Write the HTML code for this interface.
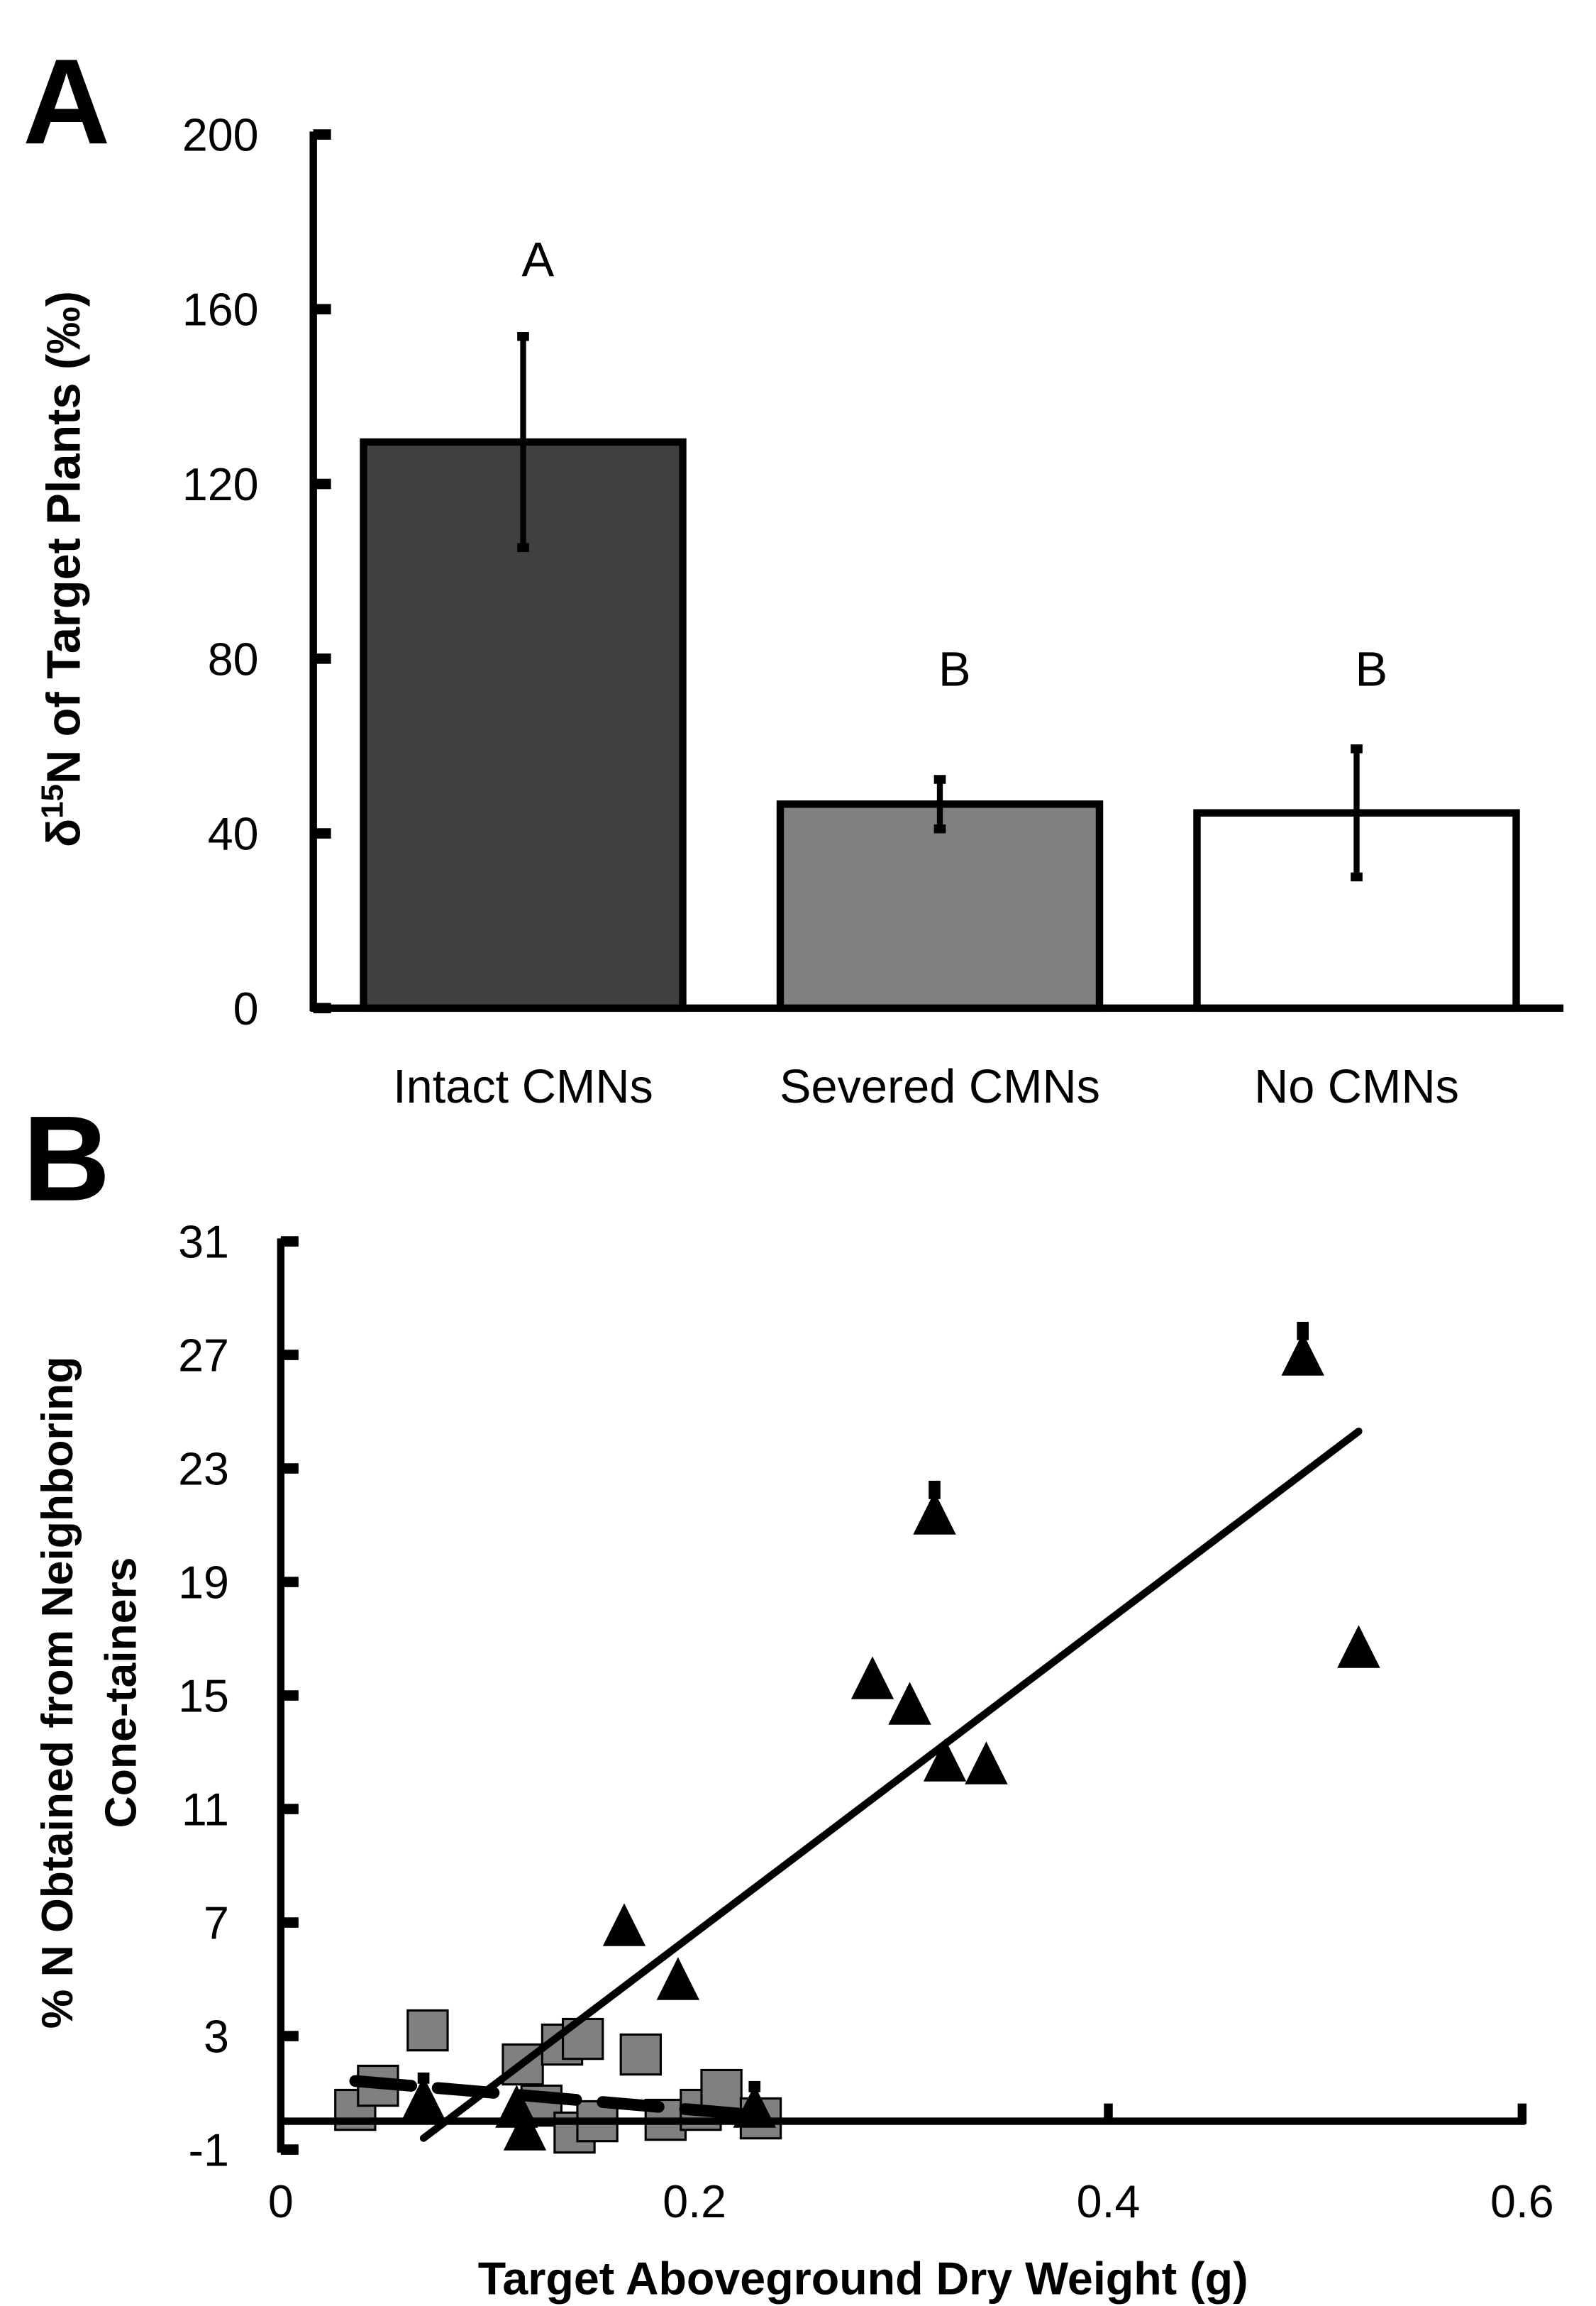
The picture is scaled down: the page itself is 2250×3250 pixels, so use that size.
<!DOCTYPE html>
<html><head><meta charset="utf-8"><style>
html,body{margin:0;padding:0;background:#fff;}
svg{display:block;}
text{font-family:"Liberation Sans",sans-serif;fill:#000;}
</style></head><body>
<svg id="fig" width="2250" height="3250" viewBox="0 0 1080 1560" preserveAspectRatio="none" xmlns="http://www.w3.org/2000/svg">
<rect width="1080" height="1560" fill="#fff"/>
<text x="45" y="97" font-size="82" font-weight="bold" text-anchor="middle">A</text>
<text x="45" y="812" font-size="82" font-weight="bold" text-anchor="middle">B</text>
<text transform="translate(54,385) rotate(-90)" font-size="32" font-weight="bold" text-anchor="middle">δ<tspan baseline-shift="super" font-size="21">15</tspan>N of Target Plants (‰)</text>
<text transform="translate(49,1145) rotate(-90)" font-size="30" font-weight="bold" text-anchor="middle">% N Obtained from Neighboring</text>
<text transform="translate(92,1145) rotate(-90)" font-size="30" font-weight="bold" text-anchor="middle">Cone-tainers</text>
<text x="584" y="1552" font-size="31" font-weight="bold" text-anchor="middle">Target Aboveground Dry Weight (g)</text>
<g id="ga"></g>
<g id="gb"></g>
</svg>
<script>
// Panel A data
const catsA = ["Intact CMNs", "Severed CMNs", "No CMNs"];
const valsA = [129.6, 46.7, 44.7];
const errsA = [24.5, 6, 15];
const lettersA = ["A", "B", "B"];
const letterLevelsA = [167.5, 73.8, 73.8];
const fillsA = ["#404040", "#808080", "#ffffff"];
const ticksA = [0, 40, 80, 120, 160, 200];
// Panel B data
const triX = [0.069, 0.114, 0.118, 0.166, 0.192, 0.286, 0.304, 0.321, 0.341, 0.316, 0.494, 0.521, 0.229];
const triY = [0.8, 0.5, -0.3, 6.9, 5.0, 15.6, 14.7, 12.7, 12.6, 21.4, 27.0, 16.7, 0.5];
const triErr = [0.3, 0, 0, 0, 0, 0, 0, 0, 0, 0.7, 0.7, 0, 0.3];
const sqX = [0.036, 0.047, 0.071, 0.117, 0.126, 0.136, 0.146, 0.142, 0.153, 0.174, 0.186, 0.203, 0.213, 0.232];
const sqY = [0.4, 1.25, 3.2, 2.0, 0.55, 2.7, 2.9, -0.4, 0.0, 2.35, 0.05, 0.4, 1.1, 0.1];
const sqErr = [0.4, 0.4, 0.3, 0.6, 0.5, 0.6, 0.5, 0.5, 0.5, 0.3, 0.5, 0.5, 0.6, 0.5];
const triFit = [55.1, -4.4];
const sqFit = [-6.2, 1.64];
const ticksBY = [-1, 3, 7, 11, 15, 19, 23, 27, 31];
const ticksBX = [0, 0.2, 0.4, 0.6];

const NS = "http://www.w3.org/2000/svg";
function mk(parent, tag, attrs, txt) {
  const e = document.createElementNS(NS, tag);
  for (const k in attrs) e.setAttribute(k, attrs[k]);
  if (txt !== undefined) e.textContent = txt;
  parent.appendChild(e);
  return e;
}
// ---- Panel A
const ga = document.getElementById('ga');
const yA = v => 682 - (v / 200) * 591;
const bandX = i => 246 + i * 282;
const bandW = 216;
let e;
e = mk(ga, 'line', {x1: 212, y1: 89, x2: 212, y2: 684, stroke: '#000', 'stroke-width': 5});


e = mk(ga, 'line', {x1: 210, y1: 682, x2: 1058, y2: 682, stroke: '#000', 'stroke-width': 5});


ticksA.forEach(t => {
  mk(ga, 'line', {x1: 212, y1: yA(t), x2: 224, y2: yA(t), stroke: '#000', 'stroke-width': 7});
  e = mk(ga, 'text', {x: 175, y: yA(t) + 11, 'font-size': 31, 'text-anchor': 'end'}, String(t));
  
  
});
catsA.forEach((c, i) => {
  const x = bandX(i), cx = x + bandW / 2;
  e = mk(ga, 'rect', {x: x, y: yA(valsA[i]), width: bandW, height: 682 - yA(valsA[i]), fill: fillsA[i], stroke: '#000', 'stroke-width': 5});
  
  
  e = mk(ga, 'line', {x1: cx, y1: yA(valsA[i] + errsA[i]), x2: cx, y2: yA(valsA[i] - errsA[i]), stroke: '#000', 'stroke-width': 4});
  
  
  mk(ga, 'rect', {x: cx - 4, y: yA(valsA[i] + errsA[i]) - 2, width: 8, height: 6, fill: '#000'});
  mk(ga, 'rect', {x: cx - 4, y: yA(valsA[i] - errsA[i]) - 4, width: 8, height: 6, fill: '#000'});
  e = mk(ga, 'text', {x: cx + 10, y: yA(letterLevelsA[i]), 'font-size': 33, 'text-anchor': 'middle'}, lettersA[i]);
  
  
  e = mk(ga, 'text', {x: cx, y: 746, 'font-size': 32, 'text-anchor': 'middle'}, c);
  
  
});
// ---- Panel B
const gb = document.getElementById('gb');
const xB = v => 190 + v * 1400;
const yB = v => 1435 - v * 19.2;
e = mk(gb, 'line', {x1: 190, y1: yB(31) - 2, x2: 190, y2: yB(-1) + 2, stroke: '#000', 'stroke-width': 5});


ticksBY.forEach(t => {
  mk(gb, 'line', {x1: 190, y1: yB(t), x2: 202, y2: yB(t), stroke: '#000', 'stroke-width': 7});
  e = mk(gb, 'text', {x: 155, y: yB(t) + 11, 'font-size': 31, 'text-anchor': 'end'}, String(t));
  
  
});
ticksBX.forEach(t => {
  if (t > 0) mk(gb, 'line', {x1: xB(t), y1: yB(0) + 2, x2: xB(t), y2: yB(0) - 12, stroke: '#000', 'stroke-width': 6});
  e = mk(gb, 'text', {x: xB(t), y: 1500, 'font-size': 31, 'text-anchor': 'middle'}, String(t));
  
  
});
sqX.forEach((x, i) => {
  mk(gb, 'line', {x1: xB(x), y1: yB(sqY[i] + sqErr[i]), x2: xB(x), y2: yB(sqY[i] - sqErr[i]), stroke: '#000', 'stroke-width': 6});
  e = mk(gb, 'rect', {x: xB(x) - 13.5, y: yB(sqY[i]) - 13.5, width: 27, height: 27, fill: '#808080', stroke: '#000', 'stroke-width': 1.5});
  
  
});
e = mk(gb, 'line', {x1: 188, y1: yB(0), x2: 1032, y2: yB(0), stroke: '#000', 'stroke-width': 5});


triX.forEach((x, i) => {
  const cx = xB(x), cy = yB(triY[i]);
  if (triErr[i] > 0) mk(gb, 'rect', {x: cx - 4, y: cy - 14 - triErr[i] * 12, width: 8, height: triErr[i] * 12 + 4, fill: '#000'});
  e = mk(gb, 'polygon', {points: `${cx},${cy - 15} ${cx - 14.5},${cy + 14} ${cx + 14.5},${cy + 14}`, fill: '#000'});
  
  
});
const tx0 = Math.min(...triX), tx1 = Math.max(...triX);
e = mk(gb, 'line', {x1: xB(tx0), y1: yB(triFit[0] * tx0 + triFit[1]), x2: xB(tx1), y2: yB(triFit[0] * tx1 + triFit[1]), stroke: '#000', 'stroke-width': 5, 'stroke-linecap': 'round'});


const sx0 = Math.min(...sqX), sx1 = Math.max(...sqX);
e = mk(gb, 'line', {x1: xB(sx0), y1: yB(sqFit[0] * sx0 + sqFit[1]), x2: xB(sx1), y2: yB(sqFit[0] * sx1 + sqFit[1]), stroke: '#000', 'stroke-width': 8, 'stroke-linecap': 'round', 'stroke-dasharray': '38 18'});


</script>
</body></html>
